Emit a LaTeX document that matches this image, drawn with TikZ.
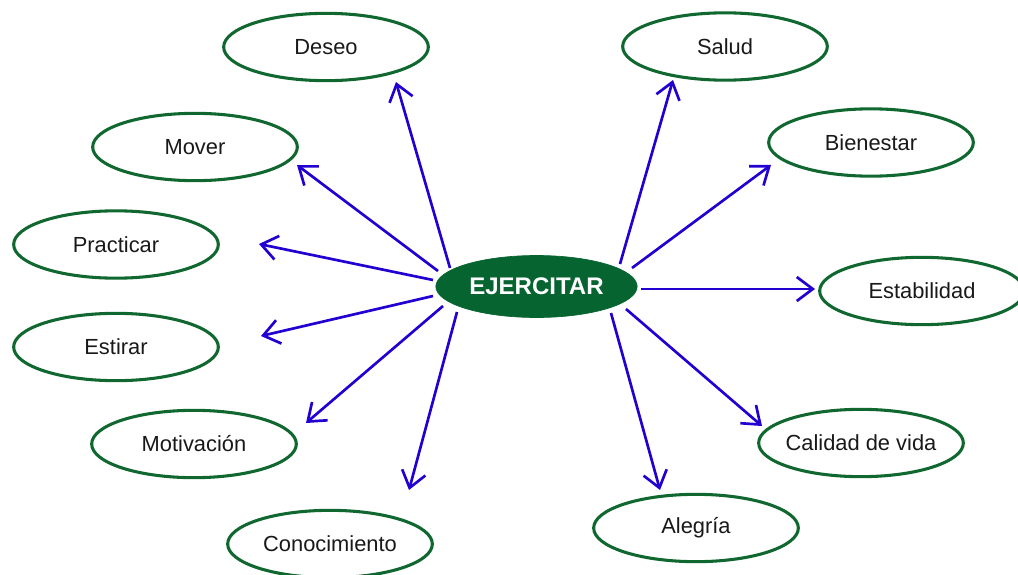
\documentclass[tikz,border=0pt]{standalone}
\usepackage{fontspec}
\setmainfont{Liberation Sans}
\usetikzlibrary{shapes.geometric,arrows.meta}
\definecolor{leafgreen}{RGB}{16,104,48}
\definecolor{hubgreen}{RGB}{6,100,48}
\definecolor{linkblue}{RGB}{34,0,210}
\definecolor{labelgray}{RGB}{25,25,25}
\tikzset{
  idea/.style={ellipse, draw=leafgreen, line width=2.3pt, fill=white,
    minimum width=153.5pt, minimum height=50.5pt,
    inner xsep=-8pt, inner ysep=0pt,
    text=labelgray, font=\fontsize{16.4}{18}\selectfont},
  hub/.style={ellipse, fill=hubgreen, draw=hubgreen, line width=0.5pt,
    minimum width=151pt, minimum height=46.5pt, inner sep=0pt,
    text=white, font=\fontsize{18}{20}\selectfont\bfseries},
  link/.style={draw=linkblue, line width=2pt,
    -{Straight Barb[length=12pt,width=18pt]}}
}
\begin{document}
\begin{tikzpicture}[x=0.75pt,y=-0.75pt]
\useasboundingbox (0,0) rectangle (1018,575);

% central idea
\node[hub] (ej) at (536.5,286.5) {EJERCITAR};

% surrounding ideas, left side
\node[idea] (deseo) at (326,47)  {Deseo};
\node[idea] (mover) at (195,147) {Mover};
\node[idea] (practicar) at (116,244.5) {Practicar};
\node[idea] (estirar) at (116,347) {Estirar};
\node[idea] (motivacion) at (194,444) {Motivación};
\node[idea] (conocimiento) at (330,544) {Conocimiento};

% surrounding ideas, right side
\node[idea] (salud) at (725,46.5) {Salud};
\node[idea] (bienestar) at (871,142.5) {Bienestar};
\node[idea] (estabilidad) at (922,291) {Estabilidad};
\node[idea] (calidad) at (861,443) {Calidad de vida};
\node[idea] (alegria) at (696,528) {Alegría};

% arrow tails on the rim of the central idea
\coordinate (t-deseo) at (450,268);
\coordinate (t-mover) at (438,271);
\coordinate (t-practicar) at (433,280);
\coordinate (t-estirar) at (433,296);
\coordinate (t-motivacion) at (443,306);
\coordinate (t-conocimiento) at (457,312);
\coordinate (t-salud) at (620,264);
\coordinate (t-bienestar) at (632,268);
\coordinate (t-estabilidad) at (641,289);
\coordinate (t-calidad) at (626,309);
\coordinate (t-alegria) at (611,313);

% arrow tips, just short of each idea
\coordinate (h-deseo) at (396,82);
\coordinate (h-mover) at (297,165);
\coordinate (h-practicar) at (259,244);
\coordinate (h-estirar) at (261,336);
\coordinate (h-motivacion) at (306,423);
\coordinate (h-conocimiento) at (409,490);
\coordinate (h-salud) at (673,80);
\coordinate (h-bienestar) at (771,165);
\coordinate (h-estabilidad) at (815,289);
\coordinate (h-calidad) at (762,426);
\coordinate (h-alegria) at (660,490);

\foreach \n in {deseo,mover,practicar,estirar,motivacion,conocimiento,
                salud,bienestar,estabilidad,calidad,alegria}
  \draw[link] (t-\n) -- (h-\n);
\end{tikzpicture}
\end{document}
